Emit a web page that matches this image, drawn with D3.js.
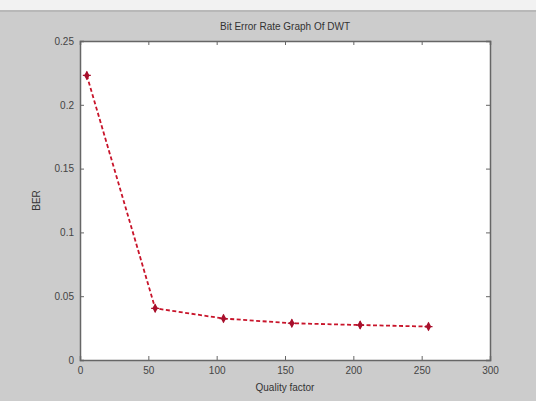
<!DOCTYPE html>
<html>
<head>
<meta charset="utf-8">
<script src="https://d3js.org/d3.v7.min.js"></script>
<style>
  body { margin: 0; padding: 0; background: #cccccc; }
  svg { display: block; font-family: "Liberation Sans", Arial, sans-serif; }
</style>
</head>
<body>
<svg id="chart" width="536" height="401"></svg>
<script>
  // data
  const quality = [5, 55, 105, 155, 205, 255];
  const ber = [0.223, 0.0405, 0.0325, 0.0288, 0.0274, 0.0262];
  const xTicks = [0, 50, 100, 150, 200, 250, 300];
  const yTicks = [0, 0.05, 0.1, 0.15, 0.2, 0.25];

  const svg = d3.select("#chart");
  const plotL = 80, plotR = 490, plotT = 41, plotB = 360;

  // window strip at the top
  svg.append("rect").attr("x", 0).attr("y", 0).attr("width", 536).attr("height", 10).attr("fill", "#f2f2f2");
  svg.append("rect").attr("x", 0).attr("y", 10).attr("width", 536).attr("height", 2).attr("fill", "#b8b8b8");

  const x = d3.scaleLinear().domain([0, 300]).range([plotL, plotR]);
  const y = d3.scaleLinear().domain([0, 0.25]).range([plotB, plotT]);

  svg.append("rect")
    .attr("x", plotL).attr("y", plotT)
    .attr("width", plotR - plotL).attr("height", plotB - plotT)
    .attr("fill", "#ffffff");

  const tickLen = 4;
  const styleAxis = g => {
    g.select(".domain").attr("stroke", "#666").attr("stroke-width", 1.5);
    g.selectAll(".tick line").attr("stroke", "#666");
    g.selectAll(".tick text").attr("fill", "#444").attr("font-size", 10);
  };

  svg.append("g").attr("transform", `translate(0,${plotB})`)
    .call(d3.axisBottom(x).tickValues(xTicks).tickSize(-tickLen).tickPadding(7).tickFormat(d3.format("d")))
    .call(styleAxis);
  svg.append("g").attr("transform", `translate(0,${plotT})`)
    .call(d3.axisTop(x).tickValues(xTicks).tickSize(-tickLen).tickFormat(""))
    .call(styleAxis);
  svg.append("g").attr("transform", `translate(${plotL},0)`)
    .call(d3.axisLeft(y).tickValues(yTicks).tickSize(-tickLen).tickPadding(6).tickFormat(d => String(+d.toFixed(2))))
    .call(styleAxis);
  svg.append("g").attr("transform", `translate(${plotR},0)`)
    .call(d3.axisRight(y).tickValues(yTicks).tickSize(-tickLen).tickFormat(""))
    .call(styleAxis);

  const pts = quality.map((q, i) => ({ q, b: ber[i] }));

  svg.append("path")
    .datum(pts)
    .attr("fill", "none")
    .attr("stroke", "#c8142a")
    .attr("stroke-width", 1.8)
    .attr("stroke-dasharray", "4,2.5")
    .attr("d", d3.line().x(d => x(d.q)).y(d => y(d.b)));

  // diamond with a small star cross, like the matlab marker
  const mk = svg.selectAll(".mk")
    .data(pts)
    .enter().append("g")
    .attr("class", "mk")
    .attr("transform", d => `translate(${x(d.q)},${y(d.b)})`);
  mk.append("path")
    .attr("d", d3.symbol().type(d3.symbolDiamond).size(26))
    .attr("fill", "#a8102c");
  mk.append("path")
    .attr("d", "M-4,0H4M0,-4V4")
    .attr("stroke", "#a8102c")
    .attr("stroke-width", 1.2);

  svg.append("text")
    .attr("x", (plotL + plotR) / 2).attr("y", 30)
    .attr("text-anchor", "middle")
    .attr("font-size", 10).attr("fill", "#333")
    .text("Bit Error Rate Graph Of DWT");

  svg.append("text")
    .attr("x", (plotL + plotR) / 2).attr("y", 391)
    .attr("text-anchor", "middle")
    .attr("font-size", 10).attr("fill", "#333")
    .text("Quality factor");

  svg.append("text")
    .attr("transform", `translate(40,${(plotT + plotB) / 2}) rotate(-90)`)
    .attr("text-anchor", "middle")
    .attr("font-size", 10).attr("fill", "#333")
    .text("BER");
</script>
</body>
</html>
